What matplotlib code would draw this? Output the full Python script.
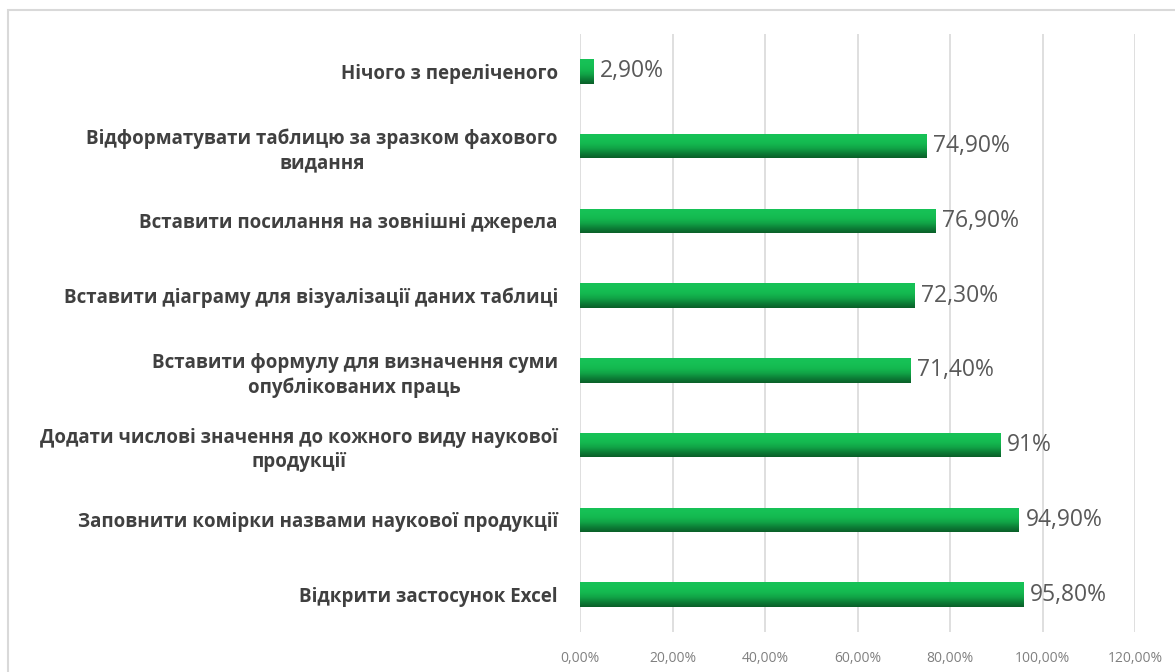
import numpy as np
import matplotlib
matplotlib.use("Agg")
import matplotlib.pyplot as plt
from matplotlib.colors import LinearSegmentedColormap
from matplotlib.patches import Rectangle

categories = [
    "Відкрити застосунок Excel",
    "Заповнити комірки назвами наукової продукції",
    "Додати числові значення до кожного виду наукової\nпродукції",
    "Вставити формулу для визначення суми\nопублікованих праць",
    "Вставити діаграму для візуалізації даних таблиці",
    "Вставити посилання на зовнішні джерела",
    "Відформатувати таблицю за зразком фахового\nвидання",
    "Нічого з переліченого",
]
values = [95.8, 94.9, 91.0, 71.4, 72.3, 76.9, 74.9, 2.9]
value_labels = ["95,80%", "94,90%", "91%", "71,40%", "72,30%", "76,90%", "74,90%", "2,90%"]
x_ticks = [0, 20, 40, 60, 80, 100, 120]
x_tick_labels = ["0,00%", "20,00%", "40,00%", "60,00%", "80,00%", "100,00%", "120,00%"]

plt.rcParams["font.family"] = ["Open Sans", "DejaVu Sans"]

fig = plt.figure(figsize=(11.75, 6.72), dpi=100)
fig.patches.append(Rectangle((8 / 1175, -0.05), 1.2, 1 - 10 / 672 + 0.05,
                             transform=fig.transFigure, fill=False,
                             edgecolor="#d9d9d9", linewidth=1.5))

ax = fig.add_axes([580 / 1175, 1 - 632 / 672, (1135 - 580) / 1175, 598 / 672])

y = np.arange(len(categories))
bars = ax.barh(y, values, height=0.33, color="#0a9a40", zorder=2)

# vertical shading: bright green on top, darker toward the bottom edge
shade = LinearSegmentedColormap.from_list(
    "shade", ["#0a5f29", "#0c8037", "#11a547", "#14b950", "#16c055", "#17c257"])
grad = np.linspace(0, 1, 64).reshape(-1, 1)
for b in bars:
    x0, y0 = b.get_x(), b.get_y()
    w, h = b.get_width(), b.get_height()
    im = ax.imshow(grad, cmap=shade, aspect="auto", origin="lower",
                   extent=(x0, x0 + w, y0, y0 + h), zorder=3)
    im.set_clip_path(b)

for yi, v, lab in zip(y, values, value_labels):
    ax.text(v + 1.4, yi, lab, va="center", ha="left", fontsize=16.5,
            color="#595959", zorder=4)

ax.set_xlim(0, 120)
ax.set_ylim(-0.5, len(categories) - 0.5)
ax.set_xticks(x_ticks)
ax.set_xticklabels(x_tick_labels, fontsize=10, color="#808080")
ax.set_yticks(y)
ax.set_yticklabels(categories, fontsize=13.5, fontweight="bold", color="#404040")
for t in ax.get_yticklabels():
    t.set_multialignment("center")
    t.set_linespacing(1.3)
ax.tick_params(axis="both", length=0)
ax.tick_params(axis="y", pad=16)
ax.tick_params(axis="x", pad=14)
ax.grid(axis="x", color="#d9d9d9", linewidth=1.2, zorder=0)
for s in ax.spines.values():
    s.set_visible(False)

fig.savefig("out.png", dpi=100, facecolor="white")
